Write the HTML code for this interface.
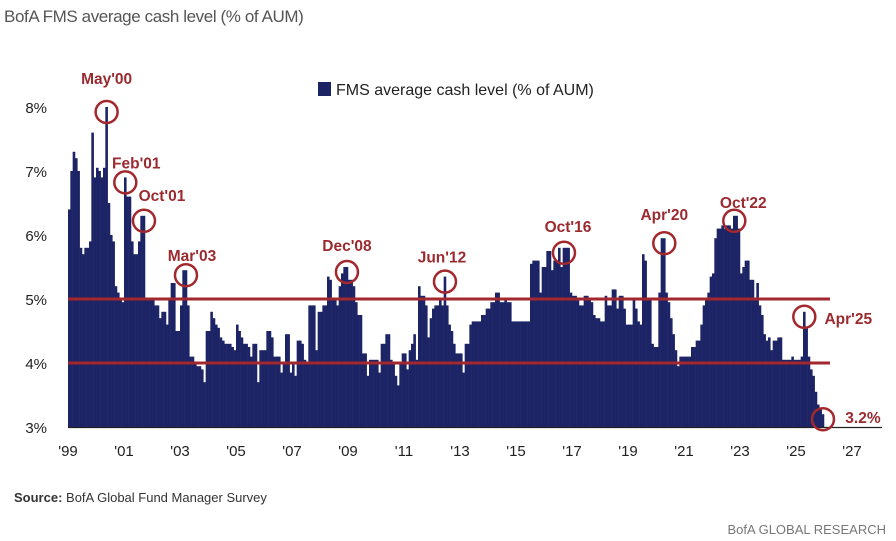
<!DOCTYPE html>
<html><head><meta charset="utf-8">
<style>
body{margin:0;background:#fff;width:896px;height:541px;overflow:hidden;font-family:"Liberation Sans",sans-serif}
svg{position:absolute;left:0;top:0}
</style></head>
<body>
<svg width="896" height="541" id="chart">
<text x="4" y="22" font-size="17" fill="#555" letter-spacing="-0.4">BofA FMS average cash level (% of AUM)</text>
<rect x="318" y="82" width="13" height="14" fill="#1c2466"/>
<text x="336" y="95" font-size="16" fill="#222">FMS average cash level (% of AUM)</text>
<g id="bars"></g>
<g id="axes"></g>
<g id="ann"></g>
<text x="14" y="502" font-size="13" fill="#333"><tspan font-weight="bold">Source:</tspan> BofA Global Fund Manager Survey</text>
<text x="886" y="534" font-size="13" fill="#777" text-anchor="end">BofA GLOBAL RESEARCH</text>
</svg>
<script>
const startYear = 1999;
const cashByYear = [
[6.4,7.0,7.3,7.2,7.0,5.8,5.7,5.8,5.8,5.9,7.6,6.9],
[7.05,7.0,6.9,7.05,8.0,6.5,6.0,5.9,5.2,5.1,5.0,4.95],
[6.9,6.6,6.6,5.9,5.7,5.7,5.9,6.3,6.3,5.0,5.0,5.0],
[5.0,4.9,4.9,4.7,4.8,4.8,4.6,5.0,5.25,5.25,4.5,4.5],
[4.9,5.45,5.45,4.9,4.1,4.1,4.0,3.95,3.95,3.9,3.7,4.5],
[4.5,4.8,4.7,4.6,4.55,4.4,4.35,4.3,4.3,4.3,4.25,4.2],
[4.6,4.5,4.4,4.3,4.3,4.25,4.1,4.3,4.3,3.7,4.2,4.2],
[4.2,4.5,4.5,4.4,4.1,4.1,4.1,3.85,4.0,4.45,4.45,3.85],
[4.0,3.8,4.35,4.35,4.3,4.05,4.0,4.9,4.9,4.9,4.2,4.8],
[4.8,4.9,4.9,5.35,5.3,5.0,5.0,4.9,5.2,5.4,5.5,5.5],
[5.3,5.3,5.2,4.95,4.75,4.75,4.15,4.15,3.8,4.05,4.05,4.05],
[4.05,3.85,4.3,4.3,4.45,4.45,4.05,4.0,3.8,3.65,4.0,4.15],
[4.15,3.9,4.2,4.3,4.45,4.05,5.2,5.05,5.05,4.9,4.4,4.7],
[4.85,4.9,4.9,5.0,4.9,5.35,4.9,4.6,4.5,4.3,4.15,4.15],
[4.15,3.85,4.3,4.3,4.6,4.65,4.65,4.65,4.65,4.75,4.75,4.85],
[4.85,4.95,4.95,5.1,5.1,4.95,4.95,5.0,4.95,4.95,4.65,4.65],
[4.65,4.65,4.65,4.65,4.65,4.65,5.55,5.6,5.6,5.6,5.1,5.5],
[5.5,5.75,5.75,5.45,5.6,5.6,5.8,5.5,5.8,5.8,5.8,5.1],
[5.05,5.05,5.0,4.9,4.9,5.05,5.05,5.0,4.95,4.75,4.7,4.7],
[4.65,4.65,5.05,4.9,4.9,5.15,5.15,4.85,5.05,5.05,4.85,4.6],
[4.6,4.6,5.0,4.85,4.65,4.6,5.7,5.6,5.0,5.0,4.3,4.25],
[4.25,5.1,5.95,5.95,5.1,4.95,4.7,4.45,4.2,3.95,4.1,4.1],
[4.1,4.1,4.1,4.25,4.25,4.35,4.35,4.6,4.9,5.0,5.1,5.35],
[5.4,5.95,6.1,6.1,6.15,6.1,6.15,6.15,6.1,6.3,6.3,6.1],
[5.4,5.5,5.6,5.6,5.3,5.3,5.0,5.25,4.9,4.75,4.45,4.35],
[4.4,4.2,4.35,4.35,4.4,4.4,4.05,4.05,4.05,4.05,4.1,4.05],
[4.05,4.05,4.1,4.8,4.55,4.1,3.9,3.8,3.55,3.35,3.3,3.2]
];
const yTicks = [3,4,5,6,7,8];
const yTickLabels = ["3%","4%","5%","6%","7%","8%"];
const xTickYears = [1999,2001,2003,2005,2007,2009,2011,2013,2015,2017,2019,2021,2023,2025,2027];
const xTickLabels = ["'99","'01","'03","'05","'07","'09","'11","'13","'15","'17","'19","'21","'23","'25","'27"];
const refLines = [4,5];
const annLabels = ["May'00","Feb'01","Oct'01","Mar'03","Dec'08","Jun'12","Oct'16","Apr'20","Oct'22","Apr'25","3.2%"];
const annIndex = [16,24,32,50,119,161,212,255,285,315,323];

const NS="http://www.w3.org/2000/svg";
const X0=68, PXY=28, Y3=427, PXV=64;
const xScale = t => X0 + (t - startYear)*PXY;
const yScale = v => Y3 - (v-3)*PXV;
const values = cashByYear.flat();
const xIdx = i => xScale(startYear + i/12);
function mk(tag, attrs, parent){const e=document.createElementNS(NS,tag);for(const k in attrs)e.setAttribute(k,attrs[k]);parent.appendChild(e);return e;}

const bars=document.getElementById('bars');
values.forEach((v,i)=>{
  const r=mk('rect',{x:xIdx(i).toFixed(2),y:yScale(v).toFixed(2),width:2.6,height:(Y3-yScale(v)).toFixed(2),fill:'#1c2466'},bars);
  
  
});
const axes=document.getElementById('axes');
const lastX = xIdx(values.length);
refLines.forEach(v=>{
  const l=mk('line',{x1:X0,x2:lastX+6,y1:yScale(v),y2:yScale(v),stroke:'#a3282e','stroke-width':3},axes);
  
  
});
const base=mk('line',{x1:X0,x2:882,y1:Y3+0.5,y2:Y3+0.5,stroke:'#222','stroke-width':1.2},axes);


yTicks.forEach((v,i)=>{
  const t=mk('text',{x:47,y:yScale(v)+6,'font-size':15,fill:'#222','text-anchor':'end'},axes);
  t.textContent=yTickLabels[i];
  
  
});
xTickYears.forEach((yr,i)=>{
  const t=mk('text',{x:xScale(yr),y:456,'font-size':15,fill:'#222','text-anchor':'middle'},axes);
  t.textContent=xTickLabels[i];
  
  
});
const ann=document.getElementById('ann');
const labelOffsets=[[0,-28],[11,-14],[18,-20],[6,-14],[0,-21],[-3,-19],[4,-21],[0,-23],[9,-13],[44,7],[40,4]];
annIndex.forEach((idx,k)=>{
  const cx=xIdx(idx)+1.3, cy=yScale(values[idx])+5;
  const c=mk('circle',{cx:cx,cy:cy,r:11,fill:'none',stroke:'#a3282e','stroke-width':2.5},ann);
  
  
  const t=mk('text',{x:cx+labelOffsets[k][0],y:cy+labelOffsets[k][1],'font-size':15.5,'font-weight':'bold',fill:'#9b2a2f','text-anchor':'middle'},ann);
  t.textContent=annLabels[k];
  
  
});
</script>
</body></html>
